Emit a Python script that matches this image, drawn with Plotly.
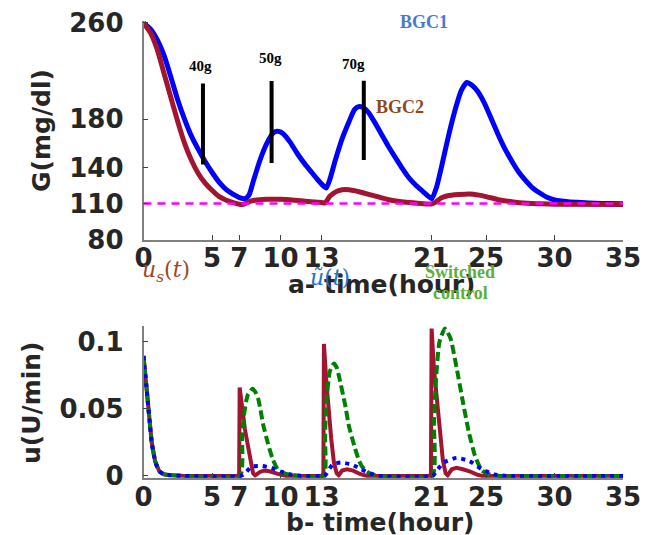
import plotly.graph_objects as go

W, H = 650, 535

# ---------------- Data: panel a (glucose) ----------------
t_bgc1 = [0, 0.5, 1, 1.5, 2, 2.5, 3, 3.5, 4, 4.5, 5, 5.5, 6, 6.5, 7, 7.4, 7.7, 8, 8.5, 9, 9.5, 9.8,
          10.2, 10.7, 11.2, 11.7, 12.2, 12.7, 13.2, 13.35, 13.6, 14, 14.5, 15, 15.4, 15.7, 16, 16.4,
          16.9, 17.4, 17.9, 18.4, 18.9, 19.4, 19.9, 20.4, 20.8, 21.05, 21.4, 21.8, 22.3, 22.8, 23.2,
          23.6, 24, 24.4, 24.9, 25.4, 25.9, 26.4, 26.9, 27.4, 27.9, 28.4, 28.9, 29.5, 30, 31, 32, 33, 34, 35]
g_bgc1 = [260, 255, 246, 233, 215, 196, 180, 166, 155, 145, 136, 128, 122, 118, 115, 114, 117, 128, 146, 160, 169, 170,
          168, 161, 152, 144, 137, 130, 124, 123, 130, 146, 164, 178, 188, 190.5, 190, 186,
          177, 167, 157, 148, 139, 131, 125, 120, 116, 114, 124, 143, 168, 190, 204,
          210.5, 208, 203, 193, 180, 167, 155, 145, 136, 129, 123, 119, 115, 113, 111.5, 110.8, 110.3, 110, 109.8]

t_bgc2 = [0, 0.5, 1, 1.5, 2, 2.5, 3, 3.5, 4, 4.5, 5, 5.5, 6, 6.5, 7, 7.3, 7.6, 8, 9, 10, 11, 12, 13, 13.25,
          13.6, 14, 14.5, 15, 15.5, 16, 17, 18, 19, 20, 21, 21.3, 21.7, 22.2, 23, 23.8, 24.5, 25, 26, 27,
          28, 29, 30, 35]
g_bgc2 = [260, 252, 238, 218, 198, 178, 160, 146, 135, 127, 121, 116, 113, 111, 109.5, 109.3, 111, 112.5, 113.5, 113.5,
          112.8, 111.8, 110.8, 110.6, 116, 119.5, 121.5, 121.5, 120.5, 119, 116, 113, 111.3, 110.3, 109.6, 111,
          114.5, 116.5, 117.5, 118, 117, 115.8, 113, 111.3, 110.3, 109.8, 109.5, 109.2]

setpoint_t = [0, 35]
setpoint_g = [110, 110]

meal_t = [4.34, 9.35, 16.08]
meal_low = [142.5, 143.7, 146.2]
meal_high = [209.7, 211.8, 212.0]
meal_labels = ["40g", "50g", "70g"]

ticks_t = [0, 5, 7, 10, 13, 21, 25, 30, 35]
ticks_g = [80, 110, 140, 180, 260]
ticks_u = [0, 0.05, 0.1]
ticks_u_text = ["0", "0.05", "0.1"]

# ---------------- Data: panel b (insulin) ----------------
t_us = [0, 0.2, 0.4, 0.6, 0.85, 1.15, 1.5, 2, 3, 6.98, 7.02, 7.2, 7.4, 7.63, 7.85, 8.0, 8.15, 8.5, 8.8, 9.2, 9.8, 10.4,
        13.13, 13.17, 13.35, 13.5, 13.7, 13.9, 14.1, 14.25, 14.5, 14.85, 15.3, 15.8, 16.3,
        20.98, 21.03, 21.2, 21.4, 21.6, 21.85, 22.05, 22.2, 22.5, 22.85, 23.3, 23.8, 24.3, 24.7, 35]
u_us = [0.0895, 0.068, 0.046, 0.025, 0.011, 0.0035, 0.0012, 0.0005, 0, 0, 0.066, 0.05, 0.035, 0.022, 0.009, 0.002, 0.0005,
        0.003, 0.004, 0.0035, 0.0015, 0,
        0, 0.0985, 0.07, 0.05, 0.028, 0.01, 0.002, 0.0005, 0.004, 0.005, 0.004, 0.0015, 0,
        0, 0.11, 0.08, 0.058, 0.035, 0.012, 0.002, 0.0005, 0.005, 0.006, 0.005, 0.0035, 0.0012, 0, 0]

t_sw = [0, 0.2, 0.4, 0.6, 0.85, 1.15, 1.5, 2, 3, 7.05, 7.2, 7.34, 7.5, 7.63, 7.95, 8.15, 8.36, 8.55, 8.72, 9.09, 9.45,
        9.8, 10.3, 11, 13.17, 13.25, 13.34, 13.6, 13.9, 14.1, 14.3, 14.7, 15.0, 15.4, 15.75, 16.1, 16.6, 17.2,
        21.08, 21.2, 21.33, 21.6, 22.0, 22.4, 22.85, 23.3, 23.76, 24.2, 24.7, 25.3, 26, 35]
u_sw = [0.0895, 0.068, 0.046, 0.025, 0.011, 0.0035, 0.0012, 0.0005, 0, 0, 0.03, 0.046, 0.056, 0.061, 0.065, 0.063, 0.058,
        0.049, 0.039, 0.024, 0.012, 0.005, 0.002, 0.0005, 0, 0.03, 0.054, 0.078, 0.084, 0.081, 0.073, 0.054, 0.037,
        0.022, 0.011, 0.005, 0.0015, 0, 0, 0.04, 0.069, 0.1, 0.11, 0.103, 0.081, 0.056, 0.032, 0.015, 0.004, 0.001, 0, 0]

t_ut = [0, 0.2, 0.4, 0.6, 0.85, 1.15, 1.5, 2, 3, 7.1, 7.4, 7.9, 8.6, 9.35, 10.1, 10.8, 11.5, 13.2, 13.3, 13.8, 14.4,
        15.2, 15.9, 16.5, 17.2, 21.1, 21.3, 21.9, 22.85, 23.8, 24.7, 25.6, 26.5, 35]
u_ut = [0.0895, 0.068, 0.046, 0.025, 0.011, 0.0035, 0.0012, 0.0005, 0, 0, 0.002, 0.007, 0.0075, 0.006, 0.003, 0.001, 0,
        0, 0.001, 0.0085, 0.01, 0.0085, 0.005, 0.002, 0, 0, 0.0025, 0.01, 0.0135, 0.011, 0.005, 0.0012, 0, 0]

# ---------------- Figure ----------------
fig = go.Figure()

fig.add_trace(go.Scatter(x=t_bgc1, y=g_bgc1, mode="lines", line=dict(color="#0000FF", width=5, shape="spline", smoothing=0.6),
                         xaxis="x", yaxis="y"))
fig.add_trace(go.Scatter(x=t_bgc2, y=g_bgc2, mode="lines", line=dict(color="#A2142F", width=5, shape="spline", smoothing=0.6),
                         xaxis="x", yaxis="y"))
fig.add_trace(go.Scatter(x=setpoint_t, y=setpoint_g, mode="lines", line=dict(color="#FF00FF", width=2.5, dash="8px,6px"),
                         xaxis="x", yaxis="y"))
for tm, lo, hi in zip(meal_t, meal_low, meal_high):
    fig.add_trace(go.Scatter(x=[tm, tm], y=[lo, hi], mode="lines", line=dict(color="black", width=4),
                             xaxis="x", yaxis="y"))

fig.add_trace(go.Scatter(x=t_us, y=u_us, mode="lines", line=dict(color="#A2142F", width=4),
                         xaxis="x2", yaxis="y2"))
fig.add_trace(go.Scatter(x=t_sw, y=u_sw, mode="lines", line=dict(color="#008000", width=4, dash="9px,4px", shape="spline", smoothing=0.5),
                         xaxis="x2", yaxis="y2"))
fig.add_trace(go.Scatter(x=t_ut, y=u_ut, mode="lines", line=dict(color="#0000FF", width=4, dash="4px,5px", shape="spline", smoothing=0.5),
                         xaxis="x2", yaxis="y2"))

tickfont = dict(family="DejaVu Sans", size=26, color="#262626", weight="bold")
axis_common = dict(showgrid=False, zeroline=False, showline=True, linecolor="#808080", linewidth=1.5,
                   ticks="inside", ticklen=5, tickwidth=1.2, tickcolor="#404040", tickfont=tickfont,
                   automargin=False)

x_dom = [135.5 / W, 615 / W]


def py(p):
    return 1 - p / H


def px(p):
    return p / W


fig.update_layout(
    width=W, height=H, margin=dict(l=0, r=0, t=0, b=0, autoexpand=False),
    paper_bgcolor="white", plot_bgcolor="white", showlegend=False,
    xaxis=dict(domain=x_dom, range=[0, 35], tickvals=ticks_t, anchor="y", ticklabelstandoff=-6, **axis_common),
    yaxis=dict(domain=[py(231.7), py(13)], range=[80, 261.6], tickvals=ticks_g, anchor="x", ticklabelstandoff=13, **axis_common),
    xaxis2=dict(domain=x_dom, range=[0, 35], tickvals=ticks_t, anchor="y2", ticklabelstandoff=-5, **axis_common),
    yaxis2=dict(domain=[py(469.7), py(318.3)], range=[-0.0013, 0.1117], tickvals=ticks_u, ticktext=ticks_u_text,
                anchor="x2", ticklabelstandoff=13, **axis_common),
)

bold_sans = dict(family="DejaVu Sans", size=25, color="#262626", weight="bold")
serif_b = "Liberation Serif"

annotations = [
    dict(text="G(mg/dl)", x=px(34), y=py(123), textangle=-90, font=bold_sans),
    dict(text="u(U/min)", x=px(23), y=py(395), textangle=-90, font=bold_sans),
    dict(text="a- time(hour)", x=px(373), y=py(276), font=bold_sans),
    dict(text="b- time(hour)", x=px(372), y=py(514), font=bold_sans),
    dict(text="<i>u</i><sub><i>s</i></sub>(<i>t</i>)", x=px(158), y=py(264),
         font=dict(family="DejaVu Serif", size=22, color="#9C4A1F")),
    dict(text="<i>ũ</i>(<i>t</i>)", x=px(322), y=py(270),
         font=dict(family="DejaVu Serif", size=22, color="#1874CD")),
    dict(text="Switched", x=px(452), y=py(264), font=dict(family=serif_b, size=18, color="#5BAF3A", weight="bold")),
    dict(text="control", x=px(452), y=py(285), font=dict(family=serif_b, size=18, color="#5BAF3A", weight="bold")),
    dict(text="BGC1", x=px(416), y=py(14), font=dict(family=serif_b, size=18, color="#4A78D0", weight="bold")),
    dict(text="BGC2", x=px(392), y=py(99), font=dict(family=serif_b, size=18, color="#8B4A1E", weight="bold")),
]
label_px = [(192, 58), (262, 49.5), (345, 56)]
for lab, (lx, ly) in zip(meal_labels, label_px):
    annotations.append(dict(text=lab, x=px(lx), y=py(ly), font=dict(family=serif_b, size=15, color="black", weight="bold")))

for a in annotations:
    a.update(xref="paper", yref="paper", showarrow=False, xanchor="center", yanchor="middle")

fig.update_layout(annotations=annotations)

fig.write_html("out.html")
